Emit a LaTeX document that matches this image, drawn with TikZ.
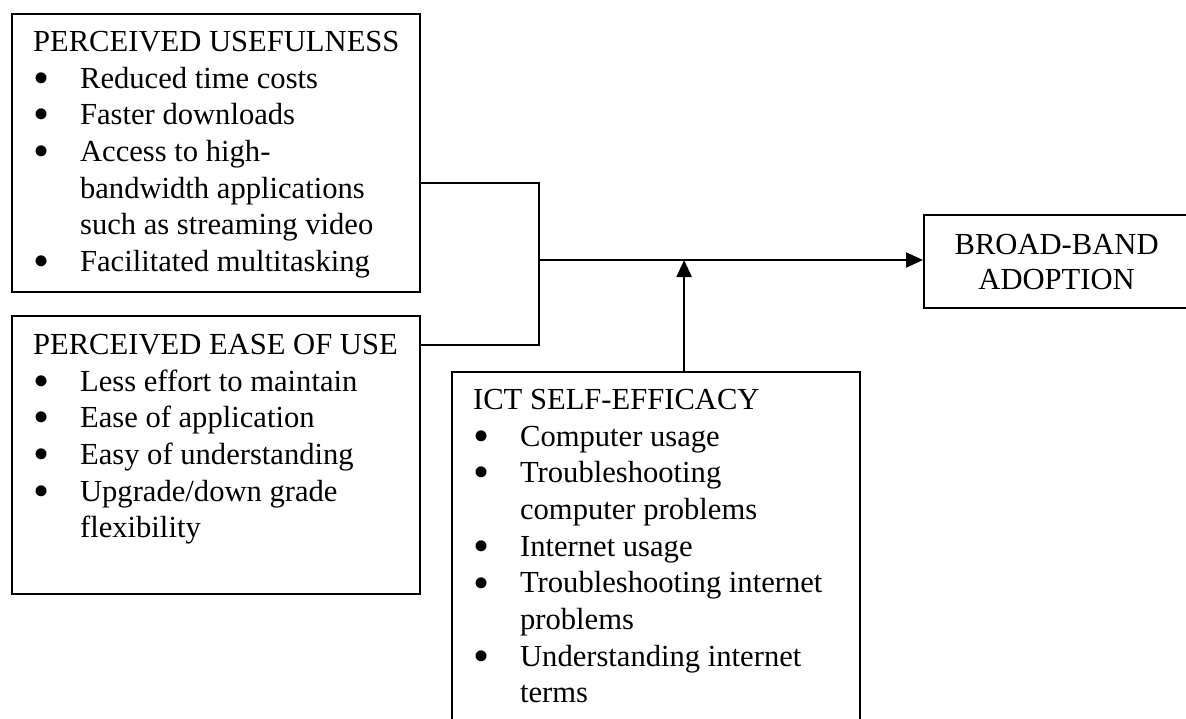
\documentclass[tikz,border=0pt]{standalone}
\usepackage{fontspec}
\setmainfont{Liberation Serif}
\usetikzlibrary{arrows.meta}
\newcommand{\bitem}[1]{\makebox[23.5pt][l]{\smash{\raisebox{-2.6pt}{\scalebox{1.5}{\textbullet}}}}#1}
\newcommand{\bmore}[1]{\makebox[23.5pt]{}#1}

\begin{document}
\begin{tikzpicture}[x=0.5pt, y=-0.5pt, line width=1.1pt,
		box/.style={draw, rectangle, inner sep=0pt, anchor=north west},
		list/.style={anchor=north west, inner sep=0pt, align=left, font=\fontsize{15.3pt}{18.35pt}\selectfont},
		tip/.style={-{Triangle[length=8.5pt, width=7.5pt]}}]
		\useasboundingbox (0,0) rectangle (1186,718);
		\clip (0,0) rectangle (1186,718);

		\node [box, minimum width=204pt, minimum height=139pt] (PU) at (11,13) {};
		\node [list] (PUtext) at ([shift={(21,17)}]PU.north west) {PERCEIVED USEFULNESS\\
			\bitem{Reduced time costs}\\
			\bitem{Faster downloads}\\
			\bitem{Access to high-}\\
			\bmore{bandwidth applications}\\
			\bmore{such as streaming video}\\
			\bitem{Facilitated multitasking}};

		\node [box, minimum width=204pt, minimum height=139pt] (PEOU) at (11,315) {};
		\node [list] (PEOUtext) at ([shift={(21,18)}]PEOU.north west) {PERCEIVED EASE OF USE\\
			\bitem{Less effort to maintain}\\
			\bitem{Ease of application}\\
			\bitem{Easy of understanding}\\
			\bitem{Upgrade/down grade}\\
			\bmore{flexibility}};

		\node [box, minimum width=204pt, minimum height=184.5pt] (ICT) at (451,371) {};
		\node [list] (ICTtext) at ([shift={(21,17)}]ICT.north west) {ICT SELF-EFFICACY\\
			\bitem{Computer usage}\\
			\bitem{Troubleshooting}\\
			\bmore{computer problems}\\
			\bitem{Internet usage}\\
			\bitem{Troubleshooting internet}\\
			\bmore{problems}\\
			\bitem{Understanding internet}\\
			\bmore{terms}};

		\node [box, minimum width=132.5pt, minimum height=46.5pt, align=center,
			font=\fontsize{15.3pt}{17.5pt}\selectfont] (BB) at (923,214) {BROAD-BAND\\ADOPTION};

		\coordinate (J) at (539,260);
		\draw ([yshift=-85pt]PU.north east) -| (J) |- ([yshift=-15pt]PEOU.north east);
		\draw [tip] (J) -- (J -| BB.west);
		\draw [tip] ([xshift=14pt]ICT.north) -- ([xshift=14pt]ICT.north |- J);

	\end{tikzpicture}
\end{document}
